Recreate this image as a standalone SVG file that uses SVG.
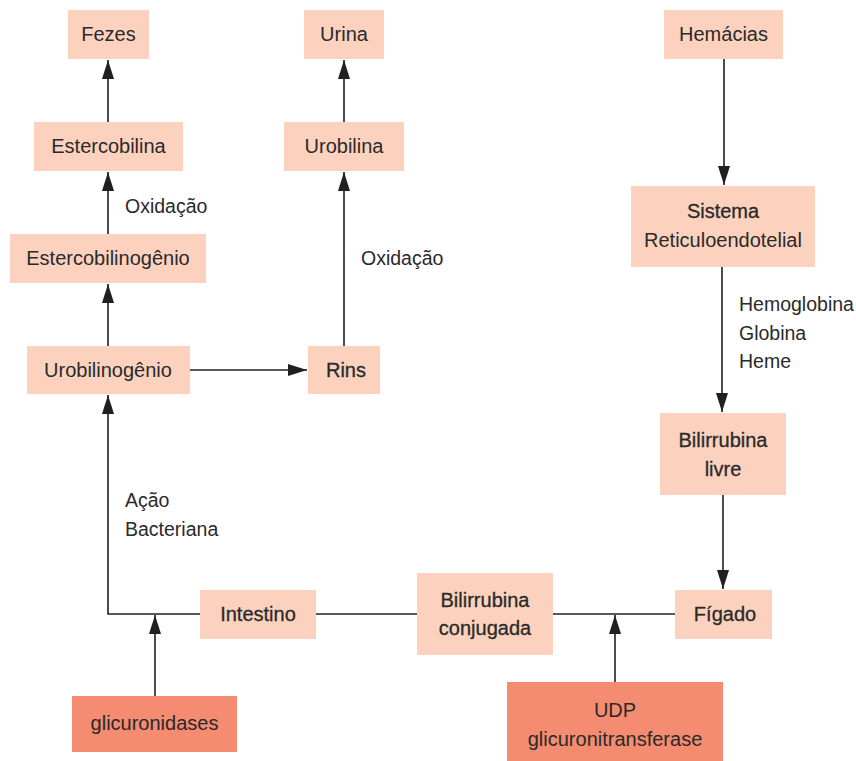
<svg xmlns="http://www.w3.org/2000/svg" width="856" height="761" viewBox="0 0 856 761">
<style>
.box{fill:#fcd2bf}
.dark{fill:#f58b70}
text{font-family:"Liberation Sans",Arial,sans-serif;font-size:20px;fill:#2a2a2a;text-anchor:middle}
.med{stroke:#2a2a2a;stroke-width:0.3}
.lbl{text-anchor:start;font-size:19.5px}
.ln{fill:none;stroke:#231f20;stroke-width:1.6}
</style>
<defs>
<marker id="ah" markerUnits="userSpaceOnUse" markerWidth="19" markerHeight="12" refX="19" refY="6" orient="auto">
<path d="M0,0 L19,6 L0,12 z" fill="#231f20"/>
</marker>
</defs>
<rect width="856" height="761" fill="#fff"/>
<g id="connectors">
<path class="ln" d="M108,122 V60" marker-end="url(#ah)"/>
<path class="ln" d="M108,234 V172" marker-end="url(#ah)"/>
<path class="ln" d="M108,346 V284" marker-end="url(#ah)"/>
<path class="ln" d="M190,370 H307" marker-end="url(#ah)"/>
<path class="ln" d="M344,346 V172" marker-end="url(#ah)"/>
<path class="ln" d="M344,122 V60" marker-end="url(#ah)"/>
<path class="ln" d="M724,59 V185" marker-end="url(#ah)"/>
<path class="ln" d="M722,267 V412" marker-end="url(#ah)"/>
<path class="ln" d="M723,495 V589" marker-end="url(#ah)"/>
<path class="ln" d="M675,614 H553"/>
<path class="ln" d="M417,614 H316"/>
<path class="ln" d="M200,614 H108 V395" marker-end="url(#ah)"/>
<path class="ln" d="M155,696 V615" marker-end="url(#ah)"/>
<path class="ln" d="M615,682 V615" marker-end="url(#ah)"/>
<text class="lbl" x="125" y="213">Oxidação</text>
<text class="lbl" x="361" y="265">Oxidação</text>
<text class="lbl" x="125" y="507">Ação</text>
<text class="lbl" x="125" y="536">Bacteriana</text>
<text class="lbl" x="739" y="311">Hemoglobina</text>
<text class="lbl" x="739" y="340">Globina</text>
<text class="lbl" x="739" y="368">Heme</text>
</g>
<g id="fezes"><rect class="box" x="68" y="10" width="81" height="49"/><text x="108.5" y="41">Fezes</text></g>
<g id="urina"><rect class="box" x="304" y="10" width="80" height="49"/><text x="344" y="41">Urina</text></g>
<g id="hemacias"><rect class="box" x="664" y="10" width="119" height="49"/><text x="723.5" y="41">Hemácias</text></g>
<g id="estercobilina"><rect class="box" x="34" y="122" width="149" height="49"/><text x="108.5" y="153">Estercobilina</text></g>
<g id="urobilina"><rect class="box" x="284" y="122" width="120" height="49"/><text x="344" y="153">Urobilina</text></g>
<g id="estercobilinogenio"><rect class="box" x="10" y="234" width="196" height="49"/><text x="108" y="265">Estercobilinogênio</text></g>
<g id="sistema"><rect class="box" x="631" y="186" width="184" height="81"/><text class="med" x="723" y="218">Sistema</text><text x="723" y="247">Reticuloendotelial</text></g>
<g id="urobilinogenio"><rect class="box" x="27" y="346" width="163" height="48"/><text x="108" y="377">Urobilinogênio</text></g>
<g id="rins"><rect class="box" x="308" y="346" width="72" height="48"/><text class="med" x="346" y="377">Rins</text></g>
<g id="bilirrubina-livre"><rect class="box" x="660" y="413" width="126" height="82"/><text class="med" x="723" y="447">Bilirrubina</text><text class="med" x="723" y="476">livre</text></g>
<g id="intestino"><rect class="box" x="200" y="590" width="116" height="49"/><text class="med" x="258" y="621">Intestino</text></g>
<g id="bilirrubina-conjugada"><rect class="box" x="417" y="573" width="136" height="82"/><text class="med" x="485" y="607">Bilirrubina</text><text class="med" x="485" y="635">conjugada</text></g>
<g id="figado"><rect class="box" x="675" y="590" width="97" height="49"/><text class="med" x="725" y="621">Fígado</text></g>
<g id="glicuronidases"><rect class="dark" x="72" y="696" width="165" height="56"/><text x="154.5" y="730">glicuronidases</text></g>
<g id="udp"><rect class="dark" x="507" y="682" width="216" height="79"/><text x="615" y="717">UDP</text><text x="615" y="746">glicuronitransferase</text></g>
</svg>
